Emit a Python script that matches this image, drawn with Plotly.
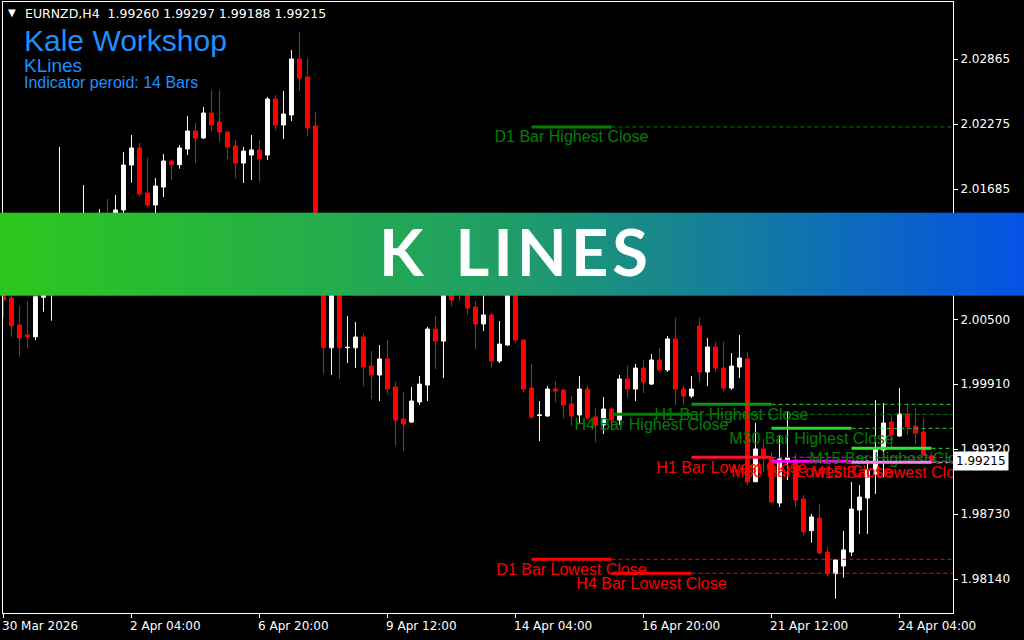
import plotly.graph_objects as go

# ---------------- data ----------------
SYMBOL = "EURNZD,H4"
HEADER_OHLC = ["1.99260", "1.99297", "1.99188", "1.99215"]
BRAND = "Kale Workshop"
IND_NAME = "KLines"
IND_PERIOD = "Indicator peroid: 14 Bars"
BANNER = "K LINES"

opens = [2.00858, 2.00694, 2.00449, 2.00358, 2.00342, 2.00701, 2.00767, 2.00967, 2.01131, 2.01021,
         2.01176, 2.01294, 2.01176, 2.01331, 2.01240, 2.01494, 2.01903, 2.02058, 2.01649, 2.01540,
         2.01703, 2.01940, 2.01906, 2.02049, 2.02212, 2.02149, 2.02376, 2.02294, 2.02203, 2.02076,
         2.01921, 2.01994, 2.02040, 2.01994, 2.02503, 2.02267, 2.02358, 2.02867, 2.02703, 2.02258,
         2.01131, 2.00242, 2.00812, 2.00242, 2.00242, 2.00340, 2.00076, 1.99994, 2.00140, 1.99885,
         1.99594, 1.99567, 1.99749, 1.99903, 2.00412, 2.00303, 2.00903, 2.00840, 2.00812, 2.00612,
         2.00458, 2.00540, 2.00122, 2.00267, 2.00967, 2.00312, 1.99876, 1.99626, 1.99622, 1.99867,
         1.99858, 1.99731, 1.99631, 1.99867, 1.99613, 1.99540, 1.99685, 1.99585, 1.99958, 1.99867,
         2.00058, 1.99912, 2.00131, 2.00040, 2.00322, 1.99867, 1.99803, 2.00440, 2.00022, 2.00249,
         2.00058, 1.99876, 2.00067, 2.00140, 1.99024, 1.99322, 1.99240, 1.98831, 1.99203, 1.99222,
         1.98867, 1.98579, 1.98694, 1.98385, 1.98188, 1.98258, 1.98385, 1.98767, 1.98876, 1.99094,
         1.99313, 1.99567, 1.99440, 1.99640, 1.99531, 1.99476, 1.99260]
highs = [2.00949, 2.00812, 2.00624, 2.00667, 2.00812, 2.00949, 2.01085, 2.02067, 2.01221, 2.01267,
         2.01721, 2.01358, 2.01503, 2.01594, 2.01630, 2.02021, 2.02176, 2.02103, 2.01967, 2.01785,
         2.02003, 2.01940, 2.02085, 2.02349, 2.02285, 2.02430, 2.02585, 2.02585, 2.02212, 2.02130,
         2.02067, 2.02176, 2.02130, 2.02521, 2.02539, 2.02576, 2.02949, 2.03112, 2.02876, 2.02385,
         2.01221, 2.00903, 2.00858, 2.00531, 2.00476, 2.00376, 2.00212, 2.00267, 2.00312, 1.99931,
         1.99840, 1.99885, 1.99985, 2.00431, 2.00531, 2.00994, 2.00967, 2.00949, 2.00903, 2.00667,
         2.00785, 2.00558, 2.00485, 2.01040, 2.01021, 2.00322, 2.00094, 1.99758, 1.99894, 1.99940,
         1.99867, 1.99803, 1.99985, 1.99903, 1.99694, 1.99794, 1.99694, 1.99994, 2.00076, 2.00094,
         2.00131, 2.00185, 2.00240, 2.00349, 2.00512, 1.99894, 1.99985, 2.00512, 2.00331, 2.00294,
         2.00294, 2.00194, 2.00358, 2.00203, 1.99558, 1.99413, 1.99294, 1.99449, 1.99658, 1.99276,
         1.98903, 1.98731, 1.98822, 1.98431, 1.98322, 1.98576, 1.99022, 1.98994, 1.99222, 1.99767,
         1.99740, 1.99631, 1.99876, 1.99731, 1.99694, 1.99603, 1.99297]
lows = [2.00512, 2.00342, 2.00161, 2.00242, 2.00312, 2.00570, 2.00488, 2.00858, 2.00903, 2.00949,
        2.01085, 2.01085, 2.01131, 2.01176, 2.01176, 2.01449, 2.01742, 2.01621, 2.01524, 2.01385,
        2.01612, 2.01767, 2.01870, 2.01994, 2.01921, 2.02140, 2.02212, 2.02112, 2.01958, 2.01785,
        2.01740, 2.01767, 2.01749, 2.01949, 2.02221, 2.02140, 2.02303, 2.02576, 2.02167, 2.01085,
        2.00003, 1.99994, 1.99958, 2.00103, 2.00058, 1.99894, 1.99776, 1.99758, 1.99822, 1.99349,
        1.99303, 1.99558, 1.99722, 1.99758, 2.00049, 1.99967, 2.00622, 2.00667, 2.00540, 2.00231,
        2.00394, 2.00058, 2.00103, 2.00258, 2.00285, 1.99840, 1.99594, 1.99394, 1.99613, 1.99749,
        1.99603, 1.99531, 1.99549, 1.99594, 1.99385, 1.99458, 1.99494, 1.99540, 1.99785, 1.99758,
        1.99831, 1.99903, 2.00022, 2.00022, 1.99722, 1.99722, 1.99785, 1.99931, 1.99894, 2.00022,
        1.99849, 1.99858, 1.99967, 1.98994, 1.99022, 1.99115, 1.98831, 1.98794, 1.99040, 1.98794,
        1.98540, 1.98470, 1.98367, 1.98161, 1.97961, 1.98152, 1.98349, 1.98549, 1.98549, 1.98913,
        1.99058, 1.99340, 1.99431, 1.99449, 1.99367, 1.99252, 1.99188]
closes = [2.00676, 2.00442, 2.00333, 2.00342, 2.00706, 2.00858, 2.00994, 2.01131, 2.01021, 2.01176,
          2.01294, 2.01176, 2.01331, 2.01240, 2.01494, 2.01903, 2.02058, 2.01640, 2.01540, 2.01712,
          2.01940, 2.01906, 2.02058, 2.02212, 2.02149, 2.02376, 2.02267, 2.02203, 2.02067, 2.01921,
          2.02030, 2.02040, 2.01958, 2.02503, 2.02267, 2.02367, 2.02867, 2.02694, 2.02240, 2.01131,
          2.00242, 2.00812, 2.00242, 2.00246, 2.00340, 2.00067, 1.99994, 2.00140, 1.99867, 1.99585,
          1.99549, 1.99758, 1.99912, 2.00412, 2.00303, 2.00903, 2.00676, 2.00749, 2.00603, 2.00458,
          2.00540, 2.00122, 2.00276, 2.00967, 2.00312, 1.99867, 1.99613, 1.99631, 1.99867, 1.99849,
          1.99722, 1.99622, 1.99867, 1.99603, 1.99540, 1.99685, 1.99585, 1.99958, 1.99867, 2.00058,
          1.99931, 2.00131, 2.00040, 2.00322, 1.99867, 1.99803, 1.99867, 2.00022, 2.00249, 2.00058,
          1.99876, 2.00076, 2.00149, 1.99024, 1.99322, 1.99240, 1.98840, 1.99231, 1.99240, 1.98858,
          1.98570, 1.98704, 1.98376, 1.98188, 1.98313, 1.98404, 1.98776, 1.98885, 1.99131, 1.99322,
          1.99558, 1.99449, 1.99640, 1.99522, 1.99467, 1.99267, 1.99215]
bar_idx = list(range(len(opens)))

x_tick_idx = [0, 16, 32, 48, 64, 80, 96, 112]
x_tick_text = ["30 Mar 2026", "2 Apr 04:00", "6 Apr 20:00", "9 Apr 12:00",
               "14 Apr 04:00", "16 Apr 20:00", "21 Apr 12:00", "24 Apr 04:00"]
y_tick_vals = [2.02865, 2.02275, 2.01685, 2.01095, 2.00500, 1.99910, 1.99320, 1.98730, 1.98140]
y_tick_text = ["2.02865", "2.02275", "2.01685", "2.01095", "2.00500",
               "1.99910", "1.99320", "1.98730", "1.98140"]

level_names = ["D1", "H4", "H1", "M30", "M15"]
level_start = [66, 76, 86, 96, 106]
level_end = [76, 86, 96, 106, 116]
highest_close = [2.02249, 1.99637, 1.99728, 1.99510, 1.99328]
lowest_close = [1.98319, 1.98192, 1.99246, 1.99210, 1.99201]

# ---------------- styles ----------------
X_MIN, X_MAX = -0.06, 118.69
Y_MIN, Y_MAX = 1.97831, 2.03385
high_seg_colors = ["#008000", "#008000", "#0c960c", "#32cd32", "#2ee82e"]
high_ext_colors = ["#008000", "#008000", "#32cd32", "#32cd32", "#32cd32"]
low_seg_colors = ["#ff0000", "#ff0000", "#ff1030", "#ff00ff", "#ee82ee"]
low_ext_colors = ["#ff0000", "#ff0000", "#ff00ff", "#ff00ff", "#ee82ee"]
HIGH_TXT = "#008000"
LOW_TXT = "#ff0000"
BLUE = "#1e90ff"
ARIAL = "Liberation Sans, Arial, sans-serif"
TAHOMA = "DejaVu Sans, Tahoma, sans-serif"

W, H = 1024, 640
ML, MR, MT, MB = 3, 71, 2, 27
PW, PH = W - ML - MR, H - MT - MB


def xp(px):
    return (px - ML) / PW


def yp(py):
    return (H - MB - py) / PH


fig = go.Figure()

fig.add_trace(go.Candlestick(
    x=bar_idx, open=opens, high=highs, low=lows, close=closes,
    increasing=dict(line=dict(color="#ffffff", width=1), fillcolor="#ffffff"),
    decreasing=dict(line=dict(color="#ff0000", width=1), fillcolor="#ff0000"),
    whiskerwidth=0, hoverinfo="skip", showlegend=False,
))

for i, name in enumerate(level_names):
    for val, segc, extc, txtc, word in (
        (highest_close[i], high_seg_colors[i], high_ext_colors[i], HIGH_TXT, "Highest"),
        (lowest_close[i], low_seg_colors[i], low_ext_colors[i], LOW_TXT, "Lowest"),
    ):
        fig.add_trace(go.Scatter(
            x=[level_end[i], X_MAX], y=[val, val], mode="lines",
            line=dict(color=extc, width=1, dash="4px,3px"),
            hoverinfo="skip", showlegend=False))
        fig.add_trace(go.Scatter(
            x=[level_start[i], level_end[i]], y=[val, val], mode="lines",
            line=dict(color=segc, width=3),
            hoverinfo="skip", showlegend=False))
        fig.add_trace(go.Scatter(
            x=[(level_start[i] + level_end[i]) / 2], y=[val], mode="markers+text",
            marker=dict(size=4, color="rgba(0,0,0,0)"),
            text=[f"{name} Bar {word} Close"], textposition="bottom center",
            textfont=dict(family=ARIAL, size=16, color=txtc),
            hoverinfo="skip", showlegend=False))

# banner gradient (drawn as thin slices)
stops = [(0.0, (44, 200, 28)), (0.5, (31, 157, 104)), (1.0, (4, 82, 230))]


def grad(t):
    for (t0, c0), (t1, c1) in zip(stops[:-1], stops[1:]):
        if t <= t1:
            f = (t - t0) / (t1 - t0)
            return "rgb(%d,%d,%d)" % tuple(round(a + (b - a) * f) for a, b in zip(c0, c1))
    return "rgb(%d,%d,%d)" % stops[-1][1]


shapes = []
N = 128
for s in range(N):
    x0 = s * W / N
    x1 = (s + 1) * W / N + 0.6
    shapes.append(dict(type="rect", xref="paper", yref="paper",
                       x0=xp(x0), x1=xp(x1), y0=yp(295.7), y1=yp(212.7),
                       fillcolor=grad((s + 0.5) / N), line=dict(width=0), layer="above"))

HS = "\u200a"
banner_text = HS.join(BANNER).replace(" ", HS + " " + HS)

annotations = []
annotations.append(dict(text=banner_text, xref="paper", yref="paper", x=xp(513.5), y=yp(250.5),
                        xanchor="center", yanchor="middle", showarrow=False,
                        font=dict(family="Lato, sans-serif", size=65, color="#ffffff", weight="bold")))
annotations.append(dict(text="▼", xref="paper", yref="paper", x=xp(11.5), y=yp(13),
                        xanchor="center", yanchor="middle", showarrow=False,
                        font=dict(family=TAHOMA, size=10, color="#ffffff")))
annotations.append(dict(text=SYMBOL + "\u00a0\u00a0" + " ".join(HEADER_OHLC),
                        xref="paper", yref="paper", x=xp(23), y=yp(14),
                        xanchor="left", yanchor="middle", showarrow=False,
                        font=dict(family=TAHOMA, size=12.5, color="#ffffff")))
annotations.append(dict(text=BRAND, xref="paper", yref="paper", x=xp(22), y=yp(41),
                        xanchor="left", yanchor="middle", showarrow=False,
                        font=dict(family=ARIAL, size=30, color=BLUE)))
annotations.append(dict(text=IND_NAME, xref="paper", yref="paper", x=xp(22), y=yp(65.5),
                        xanchor="left", yanchor="middle", showarrow=False,
                        font=dict(family=ARIAL, size=19, color=BLUE)))
annotations.append(dict(text=IND_PERIOD, xref="paper", yref="paper", x=xp(22), y=yp(82.5),
                        xanchor="left", yanchor="middle", showarrow=False,
                        font=dict(family=ARIAL, size=16, color=BLUE)))
for idx, lab in zip(x_tick_idx, x_tick_text):
    annotations.append(dict(text=lab, xref="x", yref="paper", x=idx, y=yp(626),
                            xanchor="left", yanchor="middle", showarrow=False, xshift=-3,
                            font=dict(family=TAHOMA, size=12, color="#ffffff")))
annotations.append(dict(text=HEADER_OHLC[-1], xref="paper", yref="y", x=1.0, y=closes[-1],
                        xanchor="left", yanchor="middle", showarrow=False, xshift=0,
                        bgcolor="#ffffff", borderpad=2,
                        font=dict(family=TAHOMA, size=12, color="#000000")))

fig.update_layout(
    width=W, height=H,
    margin=dict(l=ML, r=MR, t=MT, b=MB, pad=0),
    paper_bgcolor="#000000", plot_bgcolor="#000000",
    showlegend=False,
    shapes=shapes, annotations=annotations,
    xaxis=dict(range=[X_MIN, X_MAX], showgrid=False, zeroline=False,
               showline=True, mirror=True, linecolor="#ffffff", linewidth=1,
               ticks="outside", ticklen=4, tickcolor="#ffffff", tickwidth=1,
               tickvals=x_tick_idx, showticklabels=False,
               rangeslider=dict(visible=False), fixedrange=True),
    yaxis=dict(range=[Y_MIN, Y_MAX], side="right", showgrid=False, zeroline=False,
               showline=True, mirror=True, linecolor="#ffffff", linewidth=1,
               ticks="outside", ticklen=4, tickcolor="#ffffff", tickwidth=1,
               tickvals=y_tick_vals, ticktext=y_tick_text,
               tickfont=dict(family=TAHOMA, size=12, color="#ffffff"), fixedrange=True),
)

fig.write_html("out.html", config={"displayModeBar": False},
               post_script="document.body.style.margin='0';document.body.style.background='#000';")
